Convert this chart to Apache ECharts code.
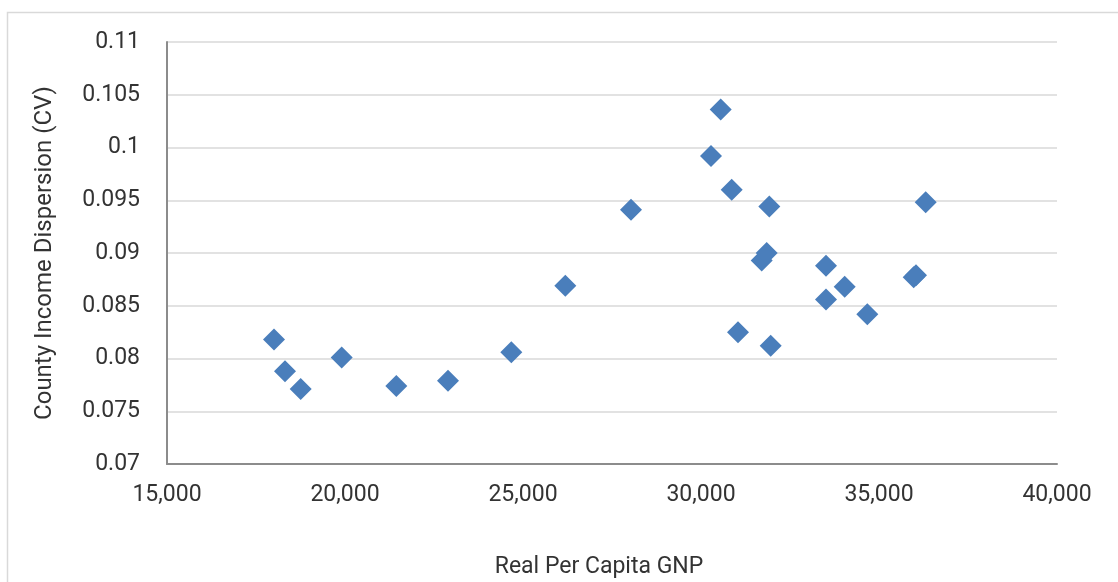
<!DOCTYPE html>
<html>
<head>
<meta charset="utf-8">
<script src="https://cdn.jsdelivr.net/npm/echarts@6/dist/echarts.min.js"></script>
<style>
  html, body { margin: 0; padding: 0; background: #fff; }
  #chart { width: 1118px; height: 582px; }
</style>
</head>
<body>
<div id="chart"></div>
<script>
// Real per capita GNP (x) vs county income dispersion CV (y)
const gnp = [
  18006, 18315, 18756, 19907, 21441, 22893, 24671, 26188,
  28034, 30281, 30553, 30862, 31039, 31705, 31846, 31919,
  31958, 33511, 33511, 34037, 34672, 35975, 36039, 36312
];
const cv = [
  0.0818, 0.0788, 0.0771, 0.0801, 0.0774, 0.0779, 0.0806, 0.0869,
  0.0941, 0.0992, 0.1036, 0.0960, 0.0825, 0.0893, 0.0900, 0.0944,
  0.0812, 0.0888, 0.0856, 0.0868, 0.0842, 0.0877, 0.0879, 0.0948
];
const xTitle = 'Real Per Capita GNP';
const yTitle = 'County Income Dispersion (CV)';

const font = 'Roboto, "Open Sans", sans-serif';
const textColor = '#333333';
const gridColor = '#d9d9d9';
const axisColor = '#8c8c8c';

const chart = echarts.init(document.getElementById('chart'));
chart.setOption({
  animation: false,
  backgroundColor: '#fff',
  grid: { left: 167, right: 61, top: 42, bottom: 118, containLabel: false, outerBoundsMode: 'none' },
  graphic: [
    {
      type: 'polyline',
      shape: { points: [[7.5, 600], [7.5, 12.5], [1120, 12.5]] },
      style: { stroke: gridColor, lineWidth: 1.5, fill: null },
      silent: true
    }
  ],
  xAxis: {
    type: 'value',
    min: 15000,
    max: 40000,
    interval: 5000,
    name: xTitle,
    nameLocation: 'middle',
    nameGap: 92,
    nameTextStyle: { fontFamily: font, fontSize: 23, color: textColor, padding: [0, 26, 0, 0] },
    axisLine: { show: true, onZero: false, lineStyle: { color: axisColor, width: 2 } },
    axisTick: { show: false },
    splitLine: { show: false },
    axisLabel: {
      margin: 20,
      fontFamily: font,
      fontSize: 23,
      color: textColor,
      formatter: v => v.toLocaleString('en-US')
    }
  },
  yAxis: {
    type: 'value',
    min: 0.07,
    max: 0.11,
    interval: 0.005,
    name: yTitle,
    nameLocation: 'middle',
    nameGap: 110,
    nameRotate: 90,
    nameTextStyle: { fontFamily: font, fontSize: 24, color: textColor },
    axisLine: { show: true, onZero: false, lineStyle: { color: axisColor, width: 2 } },
    axisTick: { show: false },
    splitLine: { show: true, lineStyle: { color: gridColor, width: 1.5 } },
    axisLabel: {
      margin: 27,
      fontFamily: font,
      fontSize: 23,
      color: textColor,
      formatter: v => String(parseFloat(v.toFixed(3)))
    }
  },
  series: [
    {
      type: 'scatter',
      data: gnp.map((g, i) => [g, cv[i]]),
      symbol: 'diamond',
      symbolSize: [22, 22],
      itemStyle: { color: '#4a7ebb', opacity: 1 }
    }
  ]
});
</script>
</body>
</html>
